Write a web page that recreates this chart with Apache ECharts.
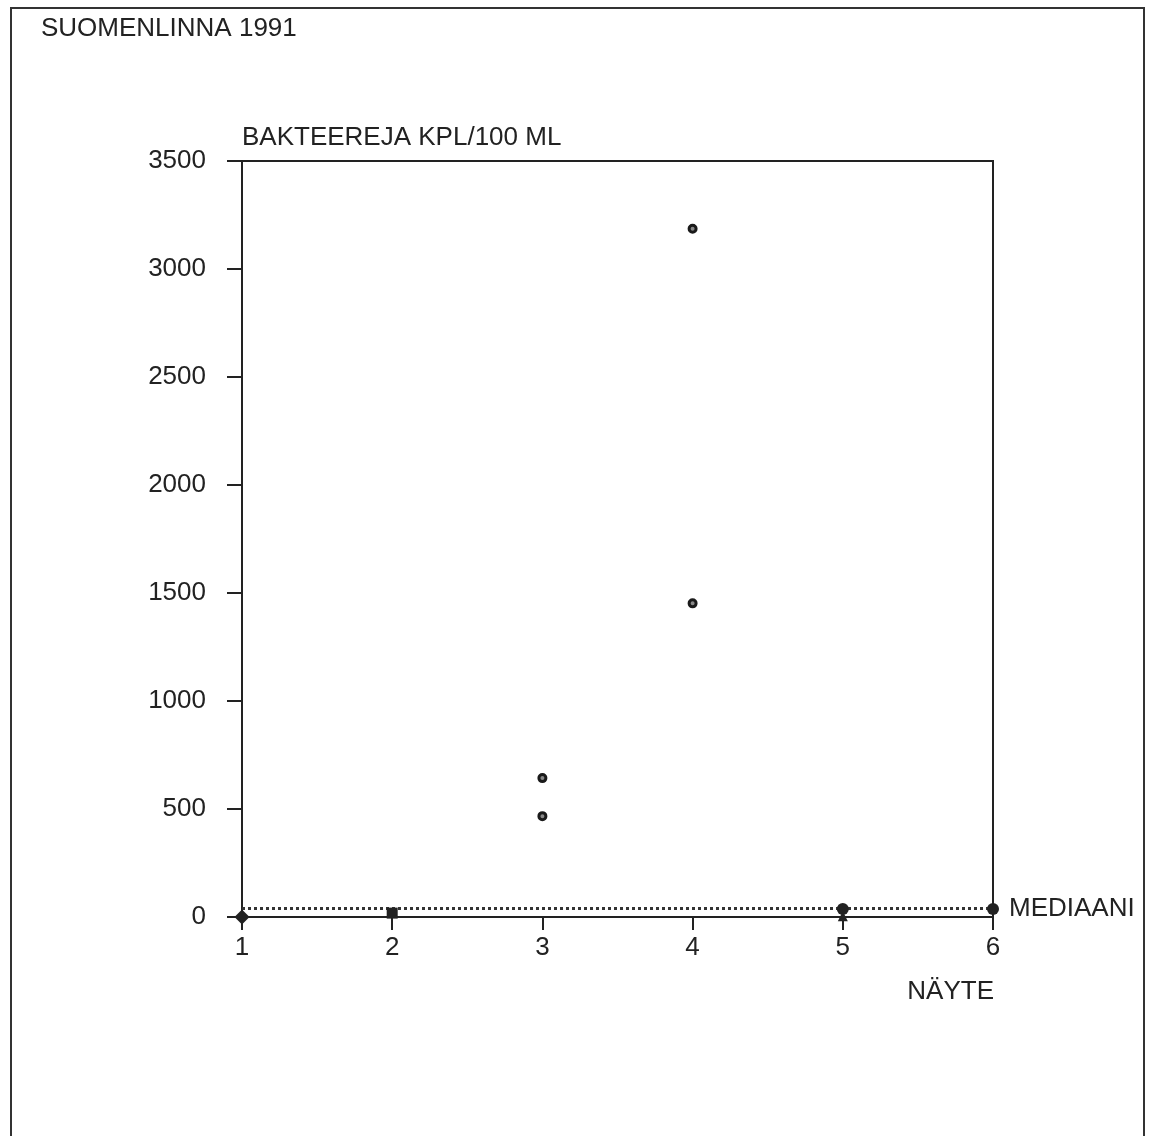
<!DOCTYPE html>
<html>
<head>
<meta charset="utf-8">
<script src="https://cdn.jsdelivr.net/npm/echarts@6/dist/echarts.min.js"></script>
<style>
html,body{margin:0;padding:0;background:#fff;}
#chart{width:1156px;height:1136px;}
</style>
</head>
<body>
<div id="chart"></div>
<script>
// ---- data ----
const titleText = 'SUOMENLINNA 1991';
const yAxisTitle = 'BAKTEEREJA KPL/100 ML';
const xAxisTitle = 'NÄYTE';
const medianLabel = 'MEDIAANI';
const xTicks = [1, 2, 3, 4, 5, 6];
const yTicks = [0, 500, 1000, 1500, 2000, 2500, 3000, 3500];
// larger counts (ring markers)
const ringSampleX = [3, 3, 4, 4];
const ringValues = [643, 467, 3186, 1452];
// low counts near zero
const lowSampleX = [1, 2, 5, 5, 6];
const lowValues = [0, 18, 37, 3, 37];
const medianValue = 40;

const ink = '#222';
const font = '"Liberation Sans", Arial, Helvetica, sans-serif';
const fs = 26;
const lowShapes = ['diamond', 'rect', 'circle', 'triangle', 'circle'];
const lowSizes = [15, 11, 12, 10, 12];

const chart = echarts.init(document.getElementById('chart'), null, {renderer: 'canvas'});
const option = {
  backgroundColor: '#fff',
  animation: false,
  title: {
    text: titleText,
    left: 36, top: 11,
    textStyle: {fontFamily: font, fontSize: fs, fontWeight: 'normal', color: ink}
  },
  grid: {
    left: 242, right: 163, top: 161, bottom: 219,
    show: true, borderColor: ink, borderWidth: 2, backgroundColor: 'transparent'
  },
  xAxis: {
    type: 'value', min: xTicks[0], max: xTicks[xTicks.length - 1], interval: 1,
    axisLine: {show: true, lineStyle: {color: ink, width: 2}},
    axisTick: {show: true, length: 13, lineStyle: {color: ink, width: 2}},
    axisLabel: {margin: 18, color: ink, fontFamily: font, fontSize: fs, formatter: v => String(v)},
    splitLine: {show: false}
  },
  yAxis: {
    type: 'value', min: yTicks[0], max: yTicks[yTicks.length - 1], interval: 500,
    name: yAxisTitle, nameLocation: 'end', nameGap: 10,
    nameTextStyle: {align: 'left', color: ink, fontFamily: font, fontSize: fs},
    axisLine: {show: true, lineStyle: {color: ink, width: 2}},
    axisTick: {show: true, length: 15, lineStyle: {color: ink, width: 2}},
    axisLabel: {margin: 36, color: ink, fontFamily: font, fontSize: fs, formatter: v => String(v)},
    splitLine: {show: false}
  },
  graphic: [
    {type: 'rect', shape: {x: 11, y: 8, width: 1133, height: 1150},
     style: {fill: 'none', stroke: '#333', lineWidth: 2}, silent: true, z: -1},
    {type: 'text', right: 1156 - 994, top: 979,
     style: {text: xAxisTitle, fill: ink, font: fs + 'px ' + font, textAlign: 'right'}}
  ],
  series: [
    {
      type: 'scatter', name: 'median',
      data: [],
      markLine: {
        silent: true, symbol: 'none',
        lineStyle: {type: [3, 3], width: 3, color: '#333'},
        label: {show: true, position: 'end', formatter: medianLabel, distance: 16,
                color: ink, fontFamily: font, fontSize: fs},
        data: [{yAxis: medianValue}]
      }
    },
    {
      type: 'scatter', name: 'rings',
      symbol: 'circle', symbolSize: 7,
      itemStyle: {color: '#888', borderColor: '#1a1a1a', borderWidth: 3, opacity: 1},
      data: ringSampleX.map((x, i) => [x, ringValues[i]]),
      z: 5
    },
    {
      type: 'scatter', name: 'low',
      symbol: (v, p) => lowShapes[p.dataIndex],
      symbolSize: (v, p) => lowSizes[p.dataIndex],
      itemStyle: {color: ink, opacity: 1},
      data: lowSampleX.map((x, i) => [x, lowValues[i]]),
      z: 6
    }
  ]
};
chart.setOption(option);
</script>
</body>
</html>
